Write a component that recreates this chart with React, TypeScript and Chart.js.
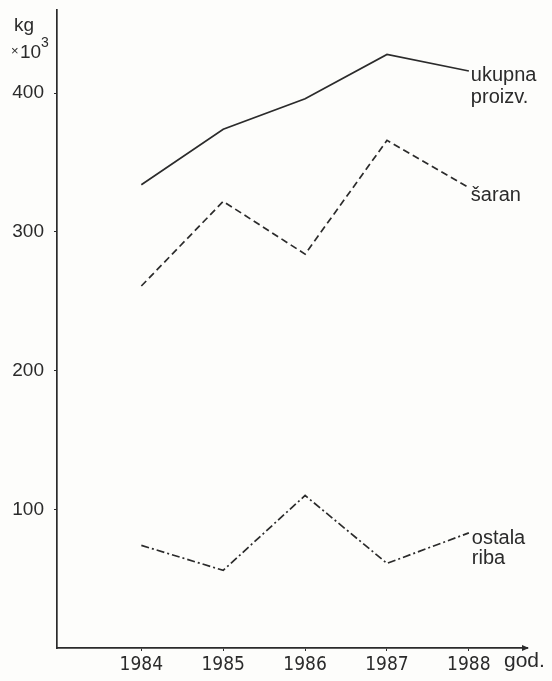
import React, { useEffect, useRef } from "react";
import { Chart, registerables } from "chart.js";

Chart.register(...registerables);

const years = [1984, 1985, 1986, 1987, 1988];
const ukupna = [334, 374, 396, 428, 416];
const saran = [261, 322, 284, 366, 332];
const ostala = [74, 56, 110, 61, 83];
const yTicks = [100, 200, 300, 400];
const seriesNames = [["ukupna", "proizv."], ["šaran"], ["ostala", "riba"]];

const INK = "#2b2b2b";
const FONT = '"Liberation Sans", "DejaVu Sans", sans-serif';
const NARROW = '"Liberation Sans Narrow", "DejaVu Sans Condensed", "Liberation Sans", sans-serif';

const toPoints = (vals: number[]) => years.map((x, i) => ({ x, y: vals[i] }));

const annotations = {
  id: "annotations",
  beforeDraw(chart: any) {
    const ctx = chart.ctx;
    ctx.save();
    ctx.fillStyle = "#fdfdfb";
    ctx.fillRect(0, 0, chart.width, chart.height);
    ctx.restore();
  },
  afterDraw(chart: any) {
    const ctx = chart.ctx;
    const xs = chart.scales.x;
    const ys = chart.scales.y;
    const area = chart.chartArea;
    ctx.save();
    ctx.fillStyle = INK;
    ctx.strokeStyle = INK;
    // axis unit
    ctx.font = `19px ${FONT}`;
    ctx.textBaseline = "alphabetic";
    ctx.textAlign = "left";
    ctx.fillText("kg", 14, 31);
    ctx.font = `13px ${FONT}`;
    ctx.fillText("×", 11, 55);
    ctx.font = `19px ${FONT}`;
    ctx.fillText("10", 20, 58);
    ctx.font = `14px ${FONT}`;
    ctx.fillText("3", 41, 47);
    // x axis arrow
    const ay = area.bottom;
    ctx.beginPath();
    ctx.moveTo(area.right + 2, ay);
    ctx.lineTo(area.right - 5, ay - 3);
    ctx.lineTo(area.right - 5, ay + 3);
    ctx.closePath();
    ctx.fill();
    // god.
    ctx.font = `21px ${FONT}`;
    ctx.fillText("god.", 504, 667);
    // series labels
    const last = years.length - 1;
    const sets = [ukupna, saran, ostala];
    const offs = [
      [2, 10, 22],
      [2, 13, 22],
      [3, 11, 20],
    ];
    ctx.font = `20px ${FONT}`;
    sets.forEach((vals, i) => {
      const px = xs.getPixelForValue(years[last]);
      const py = ys.getPixelForValue(vals[last]);
      seriesNames[i].forEach((t, j) => {
        ctx.fillText(t, px + offs[i][0], py + offs[i][1] + j * offs[i][2]);
      });
    });
    ctx.restore();
  },
};

export default function App() {
  const ref = useRef<HTMLCanvasElement | null>(null);
  useEffect(() => {
    if (!ref.current) return;
    const ds = (label: string, vals: number[], dash: number[]) => ({
      label,
      data: toPoints(vals),
      borderColor: INK,
      borderWidth: 1.7,
      borderDash: dash,
      pointRadius: 0,
      fill: false,
      tension: 0,
    });
    const chart = new Chart(ref.current, {
      type: "line",
      data: {
        datasets: [
          ds("ukupna proizv.", ukupna, []),
          ds("šaran", saran, [7, 4]),
          ds("ostala riba", ostala, [8, 3, 2, 3]),
        ],
      },
      options: {
        responsive: false,
        animation: false,
        devicePixelRatio: 1,
        layout: { padding: { top: 10, right: 25, left: 0, bottom: 0 } },
        plugins: { legend: { display: false }, tooltip: { enabled: false } },
        scales: {
          x: {
            type: "linear",
            min: 1982.97,
            max: 1988.71,
            afterBuildTicks: (s: any) => {
              s.ticks = years.map((v) => ({ value: v }));
            },
            afterFit: (s: any) => {
              s.height = 33;
              s.paddingLeft = 0;
              s.paddingRight = 0;
            },
            ticks: {
              callback: (v: any) => String(v),
              color: INK,
              font: { family: NARROW, size: 19 },
              padding: 3,
              maxRotation: 0,
              autoSkip: false,
            },
            grid: { drawOnChartArea: false, drawTicks: true, tickLength: 3, color: INK },
            border: { display: true, color: INK, width: 1.7 },
          },
          y: {
            type: "linear",
            min: 0,
            max: 460,
            afterBuildTicks: (s: any) => {
              s.ticks = yTicks.map((v) => ({ value: v }));
            },
            afterFit: (s: any) => {
              s.width = 57;
              s.paddingTop = 0;
              s.paddingBottom = 0;
            },
            ticks: {
              callback: (v: any) => String(v),
              color: INK,
              font: { family: FONT, size: 19 },
              padding: 10,
            },
            grid: { drawOnChartArea: false, drawTicks: true, tickLength: 3, color: INK },
            border: { display: true, color: INK, width: 1.7 },
          },
        },
      },
      plugins: [annotations],
    } as any);
    return () => chart.destroy();
  }, []);
  return (
    <div style={{ position: "fixed", left: 0, top: 0, width: 552, height: 681, background: "#fdfdfb" }}>
      <canvas ref={ref} width={552} height={681} style={{ width: 552, height: 681, display: "block" }} />
    </div>
  );
}
